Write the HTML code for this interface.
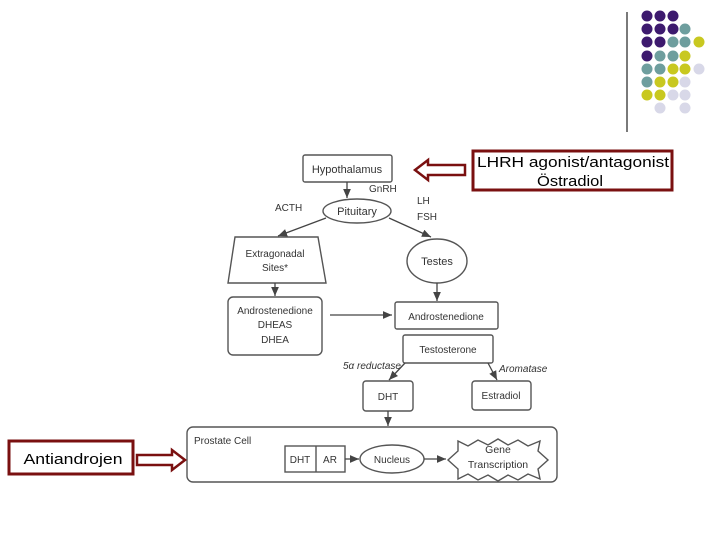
<!DOCTYPE html>
<html><head><style>
body{margin:0;background:#fff;}
svg{display:block;font-family:"Liberation Sans",Arial,sans-serif;}
.d{font-size:10px;fill:#333;}
</style></head><body>
<svg width="720" height="540" viewBox="0 0 720 540" xmlns="http://www.w3.org/2000/svg">
<defs><marker id="a" markerWidth="8" markerHeight="8" refX="7" refY="4" orient="auto"><path d="M0,1 L7,4 L0,7 z" fill="#444"/></marker></defs>
<line x1="627" y1="12" x2="627" y2="132" stroke="#222" stroke-width="1.2"/>
<g>
<circle cx="647" cy="16" r="5.5" fill="#3d1a6e"/><circle cx="660" cy="16" r="5.5" fill="#3d1a6e"/><circle cx="673" cy="16" r="5.5" fill="#3d1a6e"/>
<circle cx="647" cy="29" r="5.5" fill="#3d1a6e"/><circle cx="660" cy="29" r="5.5" fill="#3d1a6e"/><circle cx="673" cy="29" r="5.5" fill="#3d1a6e"/><circle cx="685" cy="29" r="5.5" fill="#6e9e9e"/>
<circle cx="647" cy="42" r="5.5" fill="#3d1a6e"/><circle cx="660" cy="42" r="5.5" fill="#3d1a6e"/><circle cx="673" cy="42" r="5.5" fill="#6e9e9e"/><circle cx="685" cy="42" r="5.5" fill="#6e9e9e"/><circle cx="699" cy="42" r="5.5" fill="#c8c820"/>
<circle cx="647" cy="56" r="5.5" fill="#3d1a6e"/><circle cx="660" cy="56" r="5.5" fill="#6e9e9e"/><circle cx="673" cy="56" r="5.5" fill="#6e9e9e"/><circle cx="685" cy="56" r="5.5" fill="#c8c820"/>
<circle cx="647" cy="69" r="5.5" fill="#6e9e9e"/><circle cx="660" cy="69" r="5.5" fill="#6e9e9e"/><circle cx="673" cy="69" r="5.5" fill="#c8c820"/><circle cx="685" cy="69" r="5.5" fill="#c8c820"/><circle cx="699" cy="69" r="5.5" fill="#d8d8e8"/>
<circle cx="647" cy="82" r="5.5" fill="#6e9e9e"/><circle cx="660" cy="82" r="5.5" fill="#c8c820"/><circle cx="673" cy="82" r="5.5" fill="#c8c820"/><circle cx="685" cy="82" r="5.5" fill="#d8d8e8"/>
<circle cx="647" cy="95" r="5.5" fill="#c8c820"/><circle cx="660" cy="95" r="5.5" fill="#c8c820"/><circle cx="673" cy="95" r="5.5" fill="#d8d8e8"/><circle cx="685" cy="95" r="5.5" fill="#d8d8e8"/>
<circle cx="660" cy="108" r="5.5" fill="#d8d8e8"/><circle cx="685" cy="108" r="5.5" fill="#d8d8e8"/>
</g>
<g fill="none" stroke="#555" stroke-width="1.4">
<rect x="303" y="155" width="89" height="27" rx="2"/>
<ellipse cx="357" cy="211" rx="34" ry="12"/>
<path d="M235,237 L318,237 L326,283 L228,283 Z"/>
<rect x="228" y="297" width="94" height="58" rx="5"/>
<ellipse cx="437" cy="261" rx="30" ry="22"/>
<rect x="395" y="302" width="103" height="27" rx="2"/>
<rect x="403" y="335" width="90" height="28" rx="2"/>
<rect x="363" y="381" width="50" height="30" rx="3"/>
<rect x="472" y="381" width="59" height="29" rx="3"/>
<rect x="187" y="427" width="370" height="55" rx="6"/>
<rect x="285" y="446" width="60" height="26"/><line x1="316" y1="446" x2="316" y2="472"/>
<ellipse cx="392" cy="459" rx="32" ry="14"/>
<path d="M458,441 L468,446 L478,440 L488,445 L498,439 L508,445 L518,440 L528,446 L540,441 L538,451 L548,460 L538,469 L540,479 L528,474 L518,480 L508,475 L498,481 L488,475 L478,480 L468,474 L458,479 L458,469 L448,460 L458,451 Z"/>
</g>
<g stroke="#444" stroke-width="1.3" marker-end="url(#a)">
<line x1="347" y1="182" x2="347" y2="198"/>
<line x1="326" y1="218" x2="278" y2="236"/>
<line x1="389" y1="218" x2="431" y2="237"/>
<line x1="275" y1="283" x2="275" y2="296"/>
<line x1="330" y1="315" x2="392" y2="315"/>
<line x1="437" y1="283" x2="437" y2="301"/>
<line x1="405" y1="363" x2="389" y2="380"/>
<line x1="488" y1="363" x2="497" y2="380"/>
<line x1="388" y1="411" x2="388" y2="426"/>
<line x1="345" y1="459" x2="359" y2="459"/>
<line x1="424" y1="459" x2="446" y2="459"/>
</g>
<g class="d" text-anchor="middle">
<text x="347" y="173" font-size="11">Hypothalamus</text>
<text x="357" y="215" font-size="11">Pituitary</text>
<text x="275" y="257">Extragonadal</text><text x="275" y="271">Sites*</text>
<text x="275" y="314">Androstenedione</text><text x="275" y="328">DHEAS</text><text x="275" y="343">DHEA</text>
<text x="437" y="265" font-size="11">Testes</text>
<text x="446" y="320">Androstenedione</text>
<text x="448" y="353">Testosterone</text>
<text x="388" y="400">DHT</text>
<text x="501" y="399">Estradiol</text>
<text x="300" y="463">DHT</text><text x="330" y="463">AR</text>
<text x="392" y="463">Nucleus</text>
<text x="498" y="453" font-size="10.5">Gene</text><text x="498" y="468" font-size="10.5">Transcription</text>
</g>
<g class="d" font-size="9">
<text x="369" y="192">GnRH</text>
<text x="275" y="211">ACTH</text>
<text x="417" y="204">LH</text><text x="417" y="220">FSH</text>
<text x="343" y="369" font-style="italic">5α reductase</text>
<text x="499" y="372" font-style="italic">Aromatase</text>
<text x="194" y="444">Prostate Cell</text>
</g>
<path d="M415,170 L428,160 L428,165 L465,165 L465,175 L428,175 L428,180 Z" fill="#fff" stroke="#7a1010" stroke-width="2.5"/>
<rect x="473" y="151" width="199" height="39" fill="#fff" stroke="#7a1010" stroke-width="3"/>
<text x="573" y="167" font-size="15" text-anchor="middle" fill="#000" textLength="192" lengthAdjust="spacingAndGlyphs">LHRH agonist/antagonist</text>
<text x="570" y="186" font-size="15" text-anchor="middle" fill="#000" textLength="66" lengthAdjust="spacingAndGlyphs">Östradiol</text>
<rect x="9" y="441" width="124" height="33" fill="#fff" stroke="#7a1010" stroke-width="3"/>
<text x="73" y="464" font-size="15" text-anchor="middle" fill="#000" textLength="99" lengthAdjust="spacingAndGlyphs">Antiandrojen</text>
<path d="M185,460 L172,450 L172,455 L137,455 L137,465 L172,465 L172,470 Z" fill="#fff" stroke="#7a1010" stroke-width="2.5"/>
</svg>
</body></html>
